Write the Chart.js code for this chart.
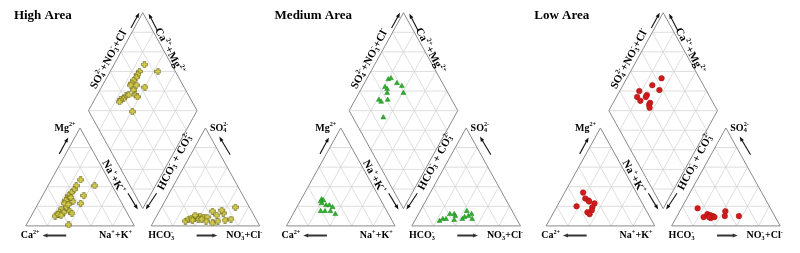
<!DOCTYPE html>
<html>
<head>
<meta charset="utf-8">
<script src="https://cdn.jsdelivr.net/npm/chart.js@4.4.1/dist/chart.umd.min.js"></script>
<style>
  html, body { margin: 0; padding: 0; background: #fff; }
  #wrap { width: 800px; height: 253px; }
</style>
</head>
<body>
<div id="wrap"><canvas id="piper" width="800" height="253"></canvas></div>
<script>
// ---------------- DATA (percent of meq) ----------------
const panelTitles = ["High Area", "Medium Area", "Low Area"];

// cation triangle: [Mg, Na+K]   (Ca = rest)
const highCation = [[47,27],[41,43],[41,26],[37,26],[34,25],[31,24],[28,24],[26,24],[31,38],[25,31],[23,39],[23,24],[19,28],
  [17,24],[14,24],[12,23],[10,22],[15,33],[13,36],[14,28],[1,39],[29,27],[12,24],[11,27],[22,28]];
// anion triangle: [SO4, NO3+Cl]  (HCO3 = rest)
const highAnion = [[5,29],[7,31],[8,33],[8,36],[9,38],[10,40],[9,44],[9,47],[7,40],[6,35],[5,48],[3,55],[15,49],[11,55],
  [5,59],[13,60],[16,57],[6,65],[7,70],[19,68],[7,43],[11,35]];
// diamond: [Na+K, SO4+NO3+Cl]
const highMixed = [[28,75],[44,84],[27,67],[27,64],[27,61],[26,57],[26,54],[31,57],[26,52],[40,64],[31,52],[35,51],[27,42],
  [26,38],[24,35],[24,33],[29,45],[41,40],[38,52]];

const mediumCation = [[27,19],[26,21],[25,19],[23,21],[21,26],[21,29],[19,33],[15,24],[15,28],[15,33],[12,39]];
const mediumAnion = [[5,23],[7,25],[7,28],[12,29],[12,33],[10,35],[6,36],[7,43],[9,44],[15,43],[10,47],[12,49],[7,52]];
const mediumMixed = [[20,52],[22,55],[30,58],[36,61],[21,45],[24,46],[41,59],[26,44],[22,33],[25,34],[30,41],[35,28]];

const lowCation = [[34,17],[28,22],[26,26],[25,27],[23,33],[20,18],[19,33],[16,34],[14,31],[12,34]];
const lowAnion = [[18,15],[9,25],[12,27],[11,30],[8,32],[10,33],[9,35],[15,42],[10,44],[10,57],[9,30]];
const lowMixed = [[32,65],[27,53],[18,38],[36,57],[27,43],[27,41],[19,33],[24,34],[34,42],[34,40],[36,39]];

// ---------------- LAYOUT ----------------
const panelX = [21, 285, 548];   // left corner of each cation triangle
const BASE_Y = 230, TRI_W = 110, TRI_H = 102, GAP = 17, DIA_Y = 212;
const FONT = '"Liberation Serif", "Times New Roman", serif';
const GRID = "#d6d6d6", EDGE = "#8a8a8a";

function cationXY(ox, mg, na) {
  return { x: ox + TRI_W * (na / 100 + mg / 200), y: BASE_Y - TRI_H * mg / 100 };
}
function anionXY(ox, so4, cl) {
  const ax = ox + TRI_W + GAP;
  return { x: ax + TRI_W * (cl / 100 + so4 / 200), y: BASE_Y - TRI_H * so4 / 100 };
}
function diamondXY(ox, nak, sc) {
  const bx = ox + TRI_W + GAP / 2, n = nak / 100, s = sc / 100;
  return { x: bx + (TRI_W / 2) * (s - (1 - n)), y: DIA_Y - TRI_H * (s + 1 - n) };
}

// ---------------- MARKERS ----------------
// small "+" sign with a dark rim, used for the High Area samples
function plusMarker() {
  const c = document.createElement("canvas");
  c.width = 7; c.height = 7;
  const g = c.getContext("2d");
  const m = 3.5, a = 3, t = 1.2;
  const pts = [[-t,-a],[t,-a],[t,-t],[a,-t],[a,t],[t,t],[t,a],[-t,a],[-t,t],[-a,t],[-a,-t],[-t,-t]];
  g.beginPath();
  pts.forEach((p, i) => i ? g.lineTo(m + p[0], m + p[1]) : g.moveTo(m + p[0], m + p[1]));
  g.closePath();
  g.fillStyle = "#d8cf46"; g.fill();
  g.lineWidth = 0.6; g.strokeStyle = "#5e5a1c"; g.stroke();
  return c;
}
const plusImg = plusMarker();

const styles = [
  { pointStyle: plusImg, pointRadius: 3, backgroundColor: "#d8cf46", borderColor: "#5e5a1c" },
  { pointStyle: "triangle", pointRadius: 2.9, backgroundColor: "#2fae2f", borderColor: "#1f8a1f", borderWidth: 0.5 },
  { pointStyle: "circle", pointRadius: 2.8, backgroundColor: "#cf1b1b", borderColor: "#a51010", borderWidth: 0.5 }
];

const sets = [
  [highCation, highAnion, highMixed],
  [mediumCation, mediumAnion, mediumMixed],
  [lowCation, lowAnion, lowMixed]
];

const datasets = [];
sets.forEach((grp, p) => {
  const ox = panelX[p];
  datasets.push({ data: grp[0].map(d => cationXY(ox, d[0], d[1])), ...styles[p] });
  datasets.push({ data: grp[1].map(d => anionXY(ox, d[0], d[1])), ...styles[p] });
  datasets.push({ data: grp[2].map(d => diamondXY(ox, d[0], d[1])), ...styles[p] });
});

// ---------------- RICH TEXT ----------------
function parseRich(s) {
  const out = [];
  let i = 0;
  while (i < s.length) {
    if ((s[i] === "_" || s[i] === "^") && s[i + 1] === "{") {
      const j = s.indexOf("}", i);
      out.push({ t: s.slice(i + 2, j), k: s[i] });
      i = j + 1;
    } else {
      let j = i;
      while (j < s.length && !((s[j] === "_" || s[j] === "^") && s[j + 1] === "{")) j++;
      out.push({ t: s.slice(i, j), k: "n" });
      i = j;
    }
  }
  return out;
}

function layoutRich(ctx, str, size) {
  const toks = parseRich(str), items = [];
  const small = size * 0.62;
  let x = 0;
  for (let i = 0; i < toks.length; i++) {
    const tk = toks[i];
    if (tk.k === "n") {
      ctx.font = `bold ${size}px ${FONT}`;
      items.push({ t: tk.t, x, dy: 0, size });
      x += ctx.measureText(tk.t).width;
    } else {
      ctx.font = `bold ${small}px ${FONT}`;
      let w = ctx.measureText(tk.t).width;
      items.push({ t: tk.t, x, dy: tk.k === "^" ? -size * 0.36 : size * 0.24, size: small });
      const nx = toks[i + 1];
      if (nx && nx.k !== "n" && nx.k !== tk.k) {
        w = Math.max(w, ctx.measureText(nx.t).width);
        items.push({ t: nx.t, x, dy: nx.k === "^" ? -size * 0.36 : size * 0.24, size: small });
        i++;
      }
      x += w + 0.3;
    }
  }
  return { items, width: x };
}

function drawRich(ctx, str, x, y, size, align, angle) {
  const lay = layoutRich(ctx, str, size);
  const start = align === "center" ? -lay.width / 2 : align === "right" ? -lay.width : 0;
  ctx.save();
  ctx.translate(x, y);
  ctx.rotate(angle || 0);
  ctx.fillStyle = "#000";
  ctx.textBaseline = "middle";
  ctx.textAlign = "left";
  lay.items.forEach(it => {
    ctx.font = `bold ${it.size}px ${FONT}`;
    ctx.fillText(it.t, start + it.x, it.dy);
  });
  ctx.restore();
}

function arrow(ctx, x1, y1, x2, y2, lw, head, color) {
  const a = Math.atan2(y2 - y1, x2 - x1), c = Math.cos(a), s = Math.sin(a);
  ctx.save();
  ctx.strokeStyle = color; ctx.fillStyle = color; ctx.lineWidth = lw;
  ctx.beginPath();
  ctx.moveTo(x1, y1);
  ctx.lineTo(x2 - c * head * 0.8, y2 - s * head * 0.8);
  ctx.stroke();
  ctx.beginPath();
  ctx.moveTo(x2, y2);
  ctx.lineTo(x2 - c * head - s * head * 0.38, y2 - s * head + c * head * 0.38);
  ctx.lineTo(x2 - c * head + s * head * 0.38, y2 - s * head - c * head * 0.38);
  ctx.closePath();
  ctx.fill();
  ctx.restore();
}

// ---------------- FRAME PLUGIN ----------------
const piperFrame = {
  id: "piperFrame",
  beforeDatasetsDraw(chart) {
    const ctx = chart.ctx, sx = chart.scales.x, sy = chart.scales.y;
    const px = p => [sx.getPixelForValue(p.x), sy.getPixelForValue(p.y)];
    function seg(p, q, color, lw) {
      const a = px(p), b = px(q);
      ctx.strokeStyle = color; ctx.lineWidth = lw;
      ctx.beginPath(); ctx.moveTo(a[0], a[1]); ctx.lineTo(b[0], b[1]); ctx.stroke();
    }
    ctx.save();
    panelX.forEach(ox => {
      const bx = ox + TRI_W + GAP / 2;
      // grid
      for (let k = 1; k <= 4; k++) {
        const f = k * 20;
        [cationXY, anionXY].forEach(fn => {
          seg(fn(ox, f, 0), fn(ox, f, 100 - f), GRID, 0.8);
          seg(fn(ox, 0, f), fn(ox, 100 - f, f), GRID, 0.8);
          seg(fn(ox, 0, 100 - f), fn(ox, 100 - f, 0), GRID, 0.8);
        });
        seg(diamondXY(ox, f, 0), diamondXY(ox, f, 100), GRID, 0.8);
        seg(diamondXY(ox, 0, f), diamondXY(ox, 100, f), GRID, 0.8);
      }
      for (let k = 1; k <= 9; k++) {
        const h = k * 0.2, half = (TRI_W / 2) * (h <= 1 ? h : 2 - h);
        const y = DIA_Y - TRI_H * h;
        seg({ x: bx - half, y }, { x: bx + half, y }, GRID, 0.8);
      }
      // outlines
      [cationXY, anionXY].forEach(fn => {
        seg(fn(ox, 0, 0), fn(ox, 0, 100), EDGE, 1);
        seg(fn(ox, 0, 100), fn(ox, 100, 0), EDGE, 1);
        seg(fn(ox, 100, 0), fn(ox, 0, 0), EDGE, 1);
      });
      const B = diamondXY(ox, 100, 0), L = diamondXY(ox, 0, 0), T = diamondXY(ox, 0, 100), R = diamondXY(ox, 100, 100);
      seg(B, L, EDGE, 1); seg(L, T, EDGE, 1); seg(T, R, EDGE, 1); seg(R, B, EDGE, 1);
    });
    ctx.restore();
  },
  afterDatasetsDraw(chart) {
    const ctx = chart.ctx, sx = chart.scales.x, sy = chart.scales.y;
    const X = v => sx.getPixelForValue(v), Y = v => sy.getPixelForValue(v);
    const ang = Math.atan2(TRI_H, TRI_W / 2);
    panelX.forEach((ox, p) => {
      const bx = ox + TRI_W + GAP / 2;
      ctx.save();
      ctx.font = `bold 13px ${FONT}`;
      ctx.fillStyle = "#000"; ctx.textBaseline = "middle"; ctx.textAlign = "left";
      ctx.fillText(panelTitles[p], X(ox - 12), Y(11));
      ctx.restore();

      // cation triangle labels
      drawRich(ctx, "Ca^{2+}", X(ox - 5), Y(240), 10, "left");
      arrow(ctx, X(ox + 41), Y(240), X(ox + 17), Y(240), 2, 5, "#333");
      drawRich(ctx, "Na^{+}+K^{+}", X(ox + 108), Y(240), 10, "right");
      drawRich(ctx, "Mg^{2+}", X(ox + 40), Y(128), 10, "center");
      arrow(ctx, X(ox + 34), Y(155), X(ox + 43), Y(138), 1.1, 5, "#111");

      // anion triangle labels
      drawRich(ctx, "HCO_{3}^{-}", X(ox + 124), Y(240), 10, "left");
      arrow(ctx, X(ox + 173), Y(240), X(ox + 194), Y(240), 2, 5, "#333");
      drawRich(ctx, "NO_{3}^{-}+Cl^{-}", X(ox + 203), Y(240), 10, "left");
      drawRich(ctx, "SO_{4}^{2-}", X(ox + 196), Y(128), 10, "center");
      arrow(ctx, X(ox + 207), Y(156), X(ox + 196), Y(137), 1.1, 5, "#111");

      // diamond labels
      drawRich(ctx, "SO_{4}^{2-}+NO_{3}^{-}+Cl^{-}", X(bx - 34), Y(56), 11, "center", -ang);
      arrow(ctx, X(bx - 12), Y(24), X(bx - 3.5), Y(8), 1.1, 5, "#111");
      drawRich(ctx, "Ca^{2+}+Mg^{2+}", X(bx + 27), Y(48), 11, "center", ang);
      arrow(ctx, X(bx + 15), Y(27), X(bx + 6), Y(9), 1.1, 5, "#111");
      drawRich(ctx, "Na^{+}+K^{+}", X(bx - 30), Y(179), 11, "center", ang);
      arrow(ctx, X(bx - 15), Y(196), X(bx - 5), Y(213), 1.1, 5, "#111");
      drawRich(ctx, "HCO_{3}^{-} + CO_{3}^{2-}", X(bx + 33), Y(163), 11, "center", -ang);
      arrow(ctx, X(bx + 14), Y(196), X(bx + 3), Y(213), 1.1, 5, "#111");
    });
  }
};

new Chart(document.getElementById("piper"), {
  type: "scatter",
  data: { datasets },
  options: {
    responsive: false,
    animation: false,
    devicePixelRatio: 1,
    layout: { padding: 0 },
    plugins: { legend: { display: false }, tooltip: { enabled: false } },
    scales: {
      x: { type: "linear", min: 0, max: 800, display: false },
      y: { type: "linear", min: 0, max: 253, reverse: true, display: false }
    }
  },
  plugins: [piperFrame]
});
</script>
</body>
</html>
